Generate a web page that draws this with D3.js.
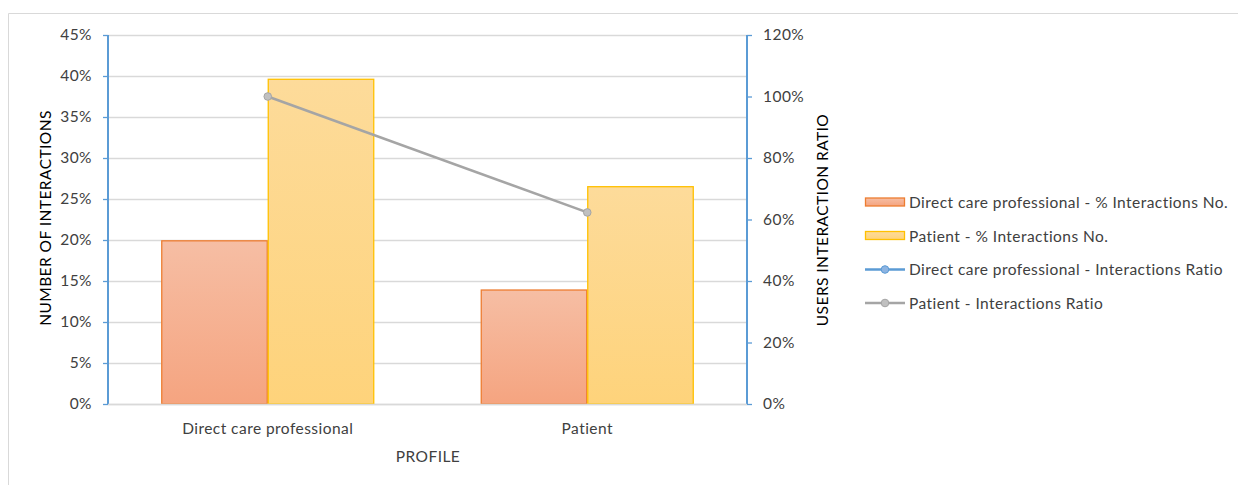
<!DOCTYPE html>
<html>
<head>
<meta charset="utf-8">
<script src="https://cdn.jsdelivr.net/npm/d3@7/dist/d3.min.js"></script>
<style>
  html, body { margin: 0; padding: 0; background: #fff; }
  svg { display: block; font-family: "Lato", "Open Sans", sans-serif; }
  svg text { letter-spacing: 0.45px; }
</style>
</head>
<body>
<svg id="chart" width="1238" height="485"></svg>
<script>
// Profiles along the x axis
const profiles = ["Direct care professional", "Patient"];

// Share of interactions per profile (left axis)
const directCarePctInteractions = [0.199, 0.139];
const patientPctInteractions = [0.396, 0.265];

// Interactions ratio per profile (right axis)
const directCareRatio = [null, null];
const patientRatio = [1.0, 0.623];

// Axis ticks
const leftTicks = [0, 0.05, 0.10, 0.15, 0.20, 0.25, 0.30, 0.35, 0.40, 0.45];
const rightTicks = [0, 0.2, 0.4, 0.6, 0.8, 1.0, 1.2];

const barSeries = [
  { name: "Direct care professional - % Interactions No.", values: directCarePctInteractions, stroke: "#ed7d31", top: "#f6bea4", bottom: "#f5a480", grad: "gradOrange" },
  { name: "Patient - % Interactions No.", values: patientPctInteractions, stroke: "#ffc000", top: "#fddb9a", bottom: "#fed37b", grad: "gradYellow" }
];
const lineSeries = [
  { name: "Direct care professional - Interactions Ratio", values: directCareRatio, stroke: "#5b9bd5", dot: "#8db4e2" },
  { name: "Patient - Interactions Ratio", values: patientRatio, stroke: "#a5a5a5", dot: "#c0c0c0" }
];

const FONT = "15.5px";
const svg = d3.select("#chart");
const plot = { left: 108, right: 747, top: 35, bottom: 404 };

// Outer frame
svg.append("path")
  .attr("d", "M8.5,485 L8.5,13.5 L1238,13.5")
  .attr("fill", "none").attr("stroke", "#d9d9d9").attr("stroke-width", 1);

const defs = svg.append("defs");
barSeries.forEach(s => {
  const g = defs.append("linearGradient").attr("id", s.grad)
    .attr("x1", 0).attr("y1", 0).attr("x2", 0).attr("y2", 1);
  g.append("stop").attr("offset", "0%").attr("stop-color", s.top);
  g.append("stop").attr("offset", "100%").attr("stop-color", s.bottom);
});

const x = d3.scaleBand().domain(profiles).range([plot.left, plot.right]).paddingInner(1 / 3).paddingOuter(1 / 6);
const xSub = d3.scaleBand().domain(barSeries.map(s => s.name)).range([0, x.bandwidth()]);
const yL = d3.scaleLinear().domain([0, 0.45]).range([plot.bottom, plot.top]);
const yR = d3.scaleLinear().domain([0, 1.2]).range([plot.bottom, plot.top]);

// Gridlines
svg.append("g").selectAll("line").data(leftTicks).join("line")
  .attr("x1", plot.left).attr("x2", plot.right)
  .attr("y1", d => Math.round(yL(d)) + 0.5).attr("y2", d => Math.round(yL(d)) + 0.5)
  .attr("stroke", "#d9d9d9").attr("stroke-width", 1.3);

// Bars
barSeries.forEach(s => {
  svg.append("g").selectAll("rect").data(profiles).join("rect")
    .attr("x", (p) => x(p) + xSub(s.name) + 0.5)
    .attr("width", xSub.bandwidth() - 1)
    .attr("y", (p, i) => yL(s.values[i]))
    .attr("height", (p, i) => plot.bottom - yL(s.values[i]))
    .attr("fill", `url(#${s.grad})`)
    .attr("stroke", s.stroke).attr("stroke-width", 1.3);
});

// Ratio lines
lineSeries.forEach(s => {
  const pts = profiles.map((p, i) => ({ x: x(p) + x.bandwidth() / 2, v: s.values[i] })).filter(d => d.v != null);
  const line = d3.line().x(d => d.x).y(d => yR(d.v));
  svg.append("path").datum(pts).attr("d", line)
    .attr("fill", "none").attr("stroke", s.stroke).attr("stroke-width", 2.5);
  svg.append("g").selectAll("circle").data(pts).join("circle")
    .attr("cx", d => d.x).attr("cy", d => yR(d.v)).attr("r", 3.8)
    .attr("fill", s.dot).attr("stroke", s.stroke).attr("stroke-width", 1);
});

// Left axis
const axisColor = "#5b9bd5";
const leftAxis = svg.append("g").attr("transform", `translate(${plot.left},0)`);
leftAxis.call(d3.axisLeft(yL).tickValues(d3.range(0, 46).map(d => d / 100)).tickSize(4).tickFormat(""));
leftAxis.call(d3.axisLeft(yL).tickValues(leftTicks).tickSize(5).tickFormat(d3.format(".0%")).tickPadding(11));
leftAxis.selectAll(".domain").attr("stroke", axisColor).attr("stroke-width", 2).attr("d", `M0,${plot.top}V${plot.bottom}`);
leftAxis.selectAll(".tick line").attr("stroke", axisColor).attr("stroke-width", 1.3);
leftAxis.selectAll("text").attr("fill", "#404040").style("font-size", FONT).style("font-family", "Lato, sans-serif");

// Right axis
const rightAxis = svg.append("g").attr("transform", `translate(${plot.right},0)`);
rightAxis.call(d3.axisRight(yR).tickValues(d3.range(0, 31).map(d => d * 0.04)).tickSize(4).tickFormat(""));
rightAxis.call(d3.axisRight(yR).tickValues(rightTicks).tickSize(5).tickFormat(d3.format(".0%")).tickPadding(11));
rightAxis.selectAll(".domain").attr("stroke", axisColor).attr("stroke-width", 2).attr("d", `M0,${plot.top}V${plot.bottom}`);
rightAxis.selectAll(".tick line").attr("stroke", axisColor).attr("stroke-width", 1.3);
rightAxis.selectAll("text").attr("fill", "#404040").style("font-size", FONT).style("font-family", "Lato, sans-serif");

// Baseline
svg.append("line").attr("x1", plot.left).attr("x2", plot.right)
  .attr("y1", plot.bottom + 0.5).attr("y2", plot.bottom + 0.5)
  .attr("stroke", "#d9d9d9").attr("stroke-width", 1.3);

// Category labels
svg.append("g").selectAll("text").data(profiles).join("text")
  .attr("x", p => x(p) + x.bandwidth() / 2).attr("y", 434)
  .attr("text-anchor", "middle").attr("fill", "#404040").style("font-size", FONT)
  .text(p => p);

// Axis titles
svg.append("text").attr("x", 428).attr("y", 462).attr("text-anchor", "middle")
  .attr("fill", "#404040").style("font-size", FONT).text("PROFILE");
svg.append("text").attr("transform", `translate(51,218) rotate(-90)`).attr("text-anchor", "middle")
  .attr("fill", "#000").style("font-size", FONT).text("NUMBER OF INTERACTIONS");
svg.append("text").attr("transform", `translate(828,220) rotate(-90)`).attr("text-anchor", "middle")
  .attr("fill", "#000").style("font-size", FONT).text("USERS INTERACTION RATIO");

// Legend
const legend = svg.append("g");
const rowY = [202.5, 236, 269.5, 303];
barSeries.forEach((s, i) => {
  legend.append("rect").attr("x", 865.5).attr("y", rowY[i] - 4.5).attr("width", 39).attr("height", 8)
    .attr("fill", `url(#${s.grad})`).attr("stroke", s.stroke).attr("stroke-width", 1.3);
});
lineSeries.forEach((s, j) => {
  const i = j + 2;
  legend.append("line").attr("x1", 865).attr("x2", 905).attr("y1", rowY[i]).attr("y2", rowY[i])
    .attr("stroke", s.stroke).attr("stroke-width", 2.5);
  legend.append("circle").attr("cx", 885).attr("cy", rowY[i]).attr("r", 3.8)
    .attr("fill", s.dot).attr("stroke", s.stroke).attr("stroke-width", 1);
});
legend.selectAll("text.lbl").data(barSeries.concat(lineSeries)).join("text")
  .attr("class", "lbl")
  .attr("x", 909).attr("y", (d, i) => rowY[i] + 5.5)
  .attr("fill", "#404040").style("font-size", FONT)
  .text(d => d.name);
</script>
</body>
</html>
